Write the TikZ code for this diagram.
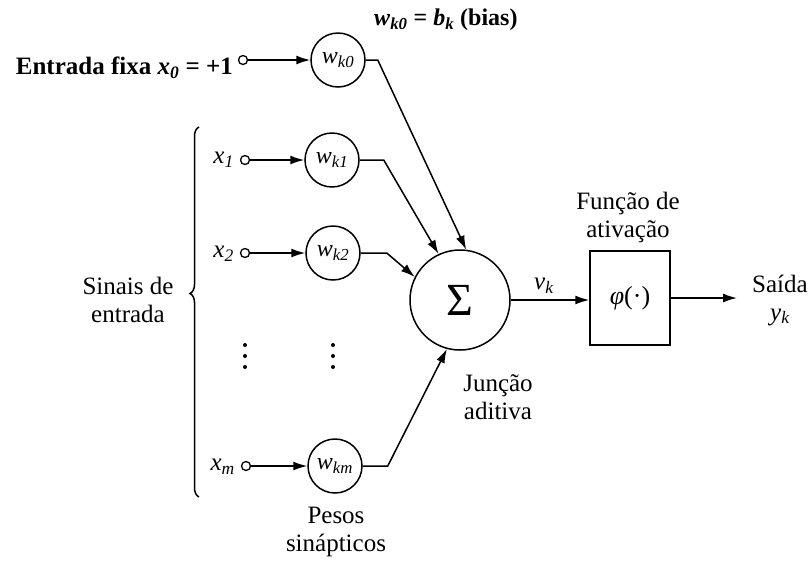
\documentclass[tikz,border=0pt]{standalone}
\usepackage{fontspec}
\setmainfont{Liberation Serif}
\usetikzlibrary{arrows.meta,decorations.pathreplacing}
\newcommand{\isub}[2]{\textit{#1}\textsubscript{\textit{#2}}}
\begin{document}
\begin{tikzpicture}[x=1pt,y=-1pt,
  txt/.style={font=\fontsize{25}{28}\selectfont, inner sep=0pt, align=center},
  wcirc/.style={draw, line width=1.5pt, circle, minimum size=54pt, inner sep=0pt, font=\fontsize{24}{26}\selectfont},
  inpt/.style={draw, line width=1.3pt, circle, minimum size=9pt, inner sep=0pt},
  arr/.style={line width=1.5pt, -{Latex[length=14pt,width=9pt]}},
  ln/.style={line width=1.5pt},
  dot/.style={circle, fill, minimum size=4pt, inner sep=0pt}]
\useasboundingbox (0,0) rectangle (809,566);
% inputs
\node[txt, anchor=east, font=\bfseries\fontsize{25}{28}\selectfont] (lx0) at (233,68) {Entrada fixa \isub{x}{0} = +1};
\node[inpt] (i0) at (243,60) {};
\node[wcirc] (w0) at (338,60) {\isub{w}{k0}};
\node[txt, anchor=west, font=\bfseries\fontsize{24}{28}\selectfont] (bias) at (374,20) {\isub{w}{k0} = \isub{b}{k} (bias)};

\node[txt, anchor=east] (lx1) at (234,160) {\isub{x}{1}};
\node[inpt] (i1) at (245,160) {};
\node[wcirc] (w1) at (332,160) {\isub{w}{k1}};

\node[txt, anchor=east] (lx2) at (234,254) {\isub{x}{2}};
\node[inpt] (i2) at (245,253) {};
\node[wcirc] (w2) at (333,253) {\isub{w}{k2}};

\node[dot] (d1a) at (245,345) {};
\node[dot] (d1b) at (245,356) {};
\node[dot] (d1c) at (245,367) {};
\node[dot] (d2a) at (333,345) {};
\node[dot] (d2b) at (333,356) {};
\node[dot] (d2c) at (333,367) {};

\node[txt, anchor=east] (lxm) at (235,467) {\isub{x}{m}};
\node[inpt] (im) at (246,466) {};
\node[wcirc] (wm) at (335,466) {\isub{w}{km}};

% brace
\draw[ln, decorate, decoration={brace, amplitude=9pt, aspect=0.55}] (199,497) -- (199,127);
\node[txt] (sinais) at (128,300) {Sinais de\\entrada};
\node[txt] (pesos) at (336,532) {Pesos\\sinápticos};

% summing junction
\node[draw, line width=1.5pt, circle, minimum size=100pt, inner sep=0pt, font=\fontsize{46}{48}\selectfont] (sig) at (460,300) {Σ};
\node[txt] (junc) at (498,397) {Junção\\aditiva};

% activation
\node[draw, line width=1.5pt, minimum width=80pt, minimum height=94pt, inner sep=0pt, font=\fontsize{26}{28}\selectfont] (phi) at (630,298) {\textit{φ}(·)};
\node[txt] (func) at (628,217) {Função de\\ativação};
\coordinate (out) at (737,298);
\node[txt] (said) at (780,300) {Saída\\\isub{y}{k}};
\node[txt] (vk) at (544,286) {\isub{v}{k}};

% connectors
\draw[arr] (i0) -- (w0);
\draw[arr] (i1) -- (w1);
\draw[arr] (i2) -- (w2);
\draw[arr] (im) -- (wm);
\draw[arr] (w0.east) -- ++(12,0) -- (sig.83);
\draw[arr] (w1.east) -- ++(24,0) -- (sig.115);
\draw[arr] (w2.east) -- ++(26,0) -- (sig.153);
\draw[arr] (wm.east) -- ++(25,0) -- (sig.255);
\draw[arr] (sig.east) -- (phi.west |- sig.east);
\draw[arr] (phi.east) -- (out);
\end{tikzpicture}
\end{document}
